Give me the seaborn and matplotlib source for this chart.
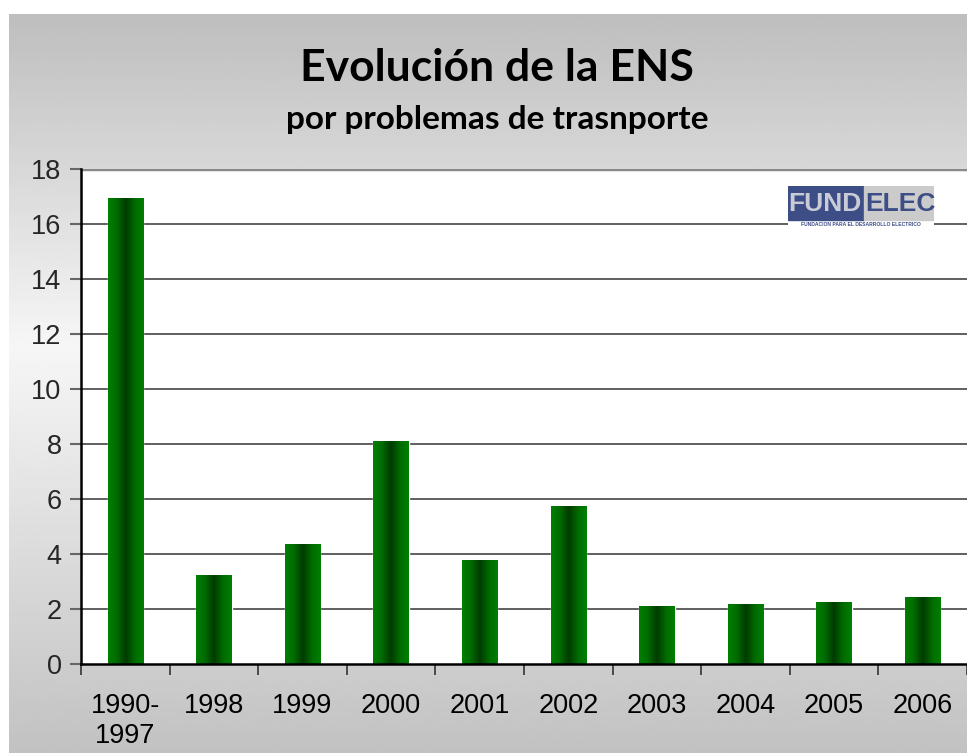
import numpy as np
import pandas as pd
import matplotlib
matplotlib.use('Agg')
import matplotlib.pyplot as plt
from matplotlib.patches import Rectangle
from matplotlib.colors import LinearSegmentedColormap
import seaborn as sns

# ==================== data ====================
years = ['1990-\n1997', '1998', '1999', '2000', '2001', '2002',
         '2003', '2004', '2005', '2006']
ens_values = [16.95, 3.22, 4.35, 8.1, 3.8, 5.74, 2.1, 2.2, 2.27, 2.43]
y_ticks = list(range(0, 20, 2))

title_text = 'Evolución de la ENS'
subtitle_text = 'por problemas de trasnporte'

df = pd.DataFrame({'periodo': years, 'ens': ens_values})

sns.set_theme(style='white')
plt.rcParams['font.family'] = ['Liberation Sans', 'DejaVu Sans']

W, H = 967, 753
fig = plt.figure(figsize=(W / 100, H / 100), dpi=100)
fig.patch.set_facecolor('white')

# gray slide panel with a vertical gradient (darker top/bottom, light middle)
bg_ax = fig.add_axes([9 / W, 0, 1 - 9 / W, (H - 14) / H])
bg_ax.set_axis_off()
t = np.linspace(0, 1, 300)
shade = np.interp(t, [0, 0.55, 1.0], [0.76, 0.965, 0.745])
bg_ax.imshow(shade[:, None], aspect='auto', cmap='gray', vmin=0, vmax=1,
             extent=(0, 1, 0, 1), origin='lower')
bg_ax.set_xlim(0, 1)
bg_ax.set_ylim(0, 1)

fig.text(497 / W, 1 - 68 / H, title_text, ha='center', va='center',
         fontsize=32, fontweight='bold', family='Lato', color='black')
fig.text(497 / W, 1 - 120 / H, subtitle_text, ha='center', va='center',
         fontsize=24, fontweight='bold', family='Lato', color='black')

# ==================== bar chart ====================
ax = fig.add_axes([81 / W, (H - 664) / H, 1 - 81 / W, (664 - 169) / H])
ax.set_facecolor('white')
sns.barplot(data=df, x='periodo', y='ens', color='#008000', width=0.4,
            saturation=1, ax=ax, zorder=3)

# horizontal shading on each bar: bright green edges, dark centre
bar_cmap = LinearSegmentedColormap.from_list(
    'bar', ['#007f00', '#006a00', '#003a00', '#006a00', '#007f00'])
grad = np.linspace(0, 1, 64)[None, :]
for p in ax.patches:
    x0, w, h = p.get_x(), p.get_width(), p.get_height()
    im = ax.imshow(grad, cmap=bar_cmap, aspect='auto',
                   extent=(x0, x0 + w, 0, h), zorder=4)
    im.set_clip_path(p)

ax.set_xlim(-0.5, len(years) - 0.5)
ax.set_ylim(0, 18)
ax.set_yticks(y_ticks)
ax.set_xlabel('')
ax.set_ylabel('')

for v in y_ticks[1:]:
    ax.axhline(v, color='#444444' if v < 18 else '#8a8a8a',
               lw=1.2 if v < 18 else 2.5, zorder=1)

ax.set_xticks(np.arange(len(years)))
ax.set_xticklabels(years, fontsize=19.5, linespacing=1.2)
ax.set_xticks(np.arange(-0.5, len(years), 1), minor=True)
ax.tick_params(axis='x', which='major', length=0, pad=21, colors='black')
ax.tick_params(axis='x', which='minor', bottom=True, length=8, width=1.2,
               direction='out', color='#333333')
ax.tick_params(axis='y', left=True, length=8, width=1.5, pad=6,
               direction='out', color='#666666', labelsize=19.5)

for side in ['top', 'right']:
    ax.spines[side].set_visible(False)
for side in ['left', 'bottom']:
    ax.spines[side].set_visible(True)
    ax.spines[side].set_color('black')
    ax.spines[side].set_linewidth(1.8)
ax.spines['bottom'].set_zorder(5)

# ==================== FUNDELEC logo ====================
logo = fig.add_axes([788 / W, 1 - 229 / H, (934 - 788) / W, (229 - 186) / H])
logo.set_xlim(0, 146)
logo.set_ylim(43, 0)
logo.set_axis_off()
logo.add_patch(Rectangle((0, 0), 146, 43, color='white'))
logo.add_patch(Rectangle((0, 0), 76, 34, color='#3d4d86'))
logo.add_patch(Rectangle((76, 0), 70, 34, color='#cbcbcb'))
logo.text(74, 18, 'FUND', fontsize=19, fontweight='bold', color='#c9cbd6',
          va='center', ha='right', family='Liberation Sans')
logo.text(77, 18, 'ELEC', fontsize=19, fontweight='bold', color='#3d4d86',
          va='center', ha='left', family='Liberation Sans')
logo.text(73, 39, 'FUNDACION PARA EL DESARROLLO ELECTRICO', fontsize=3.6,
          fontweight='bold', color='#3d4d86', va='center', ha='center')

fig.savefig('out.png', dpi=100)
